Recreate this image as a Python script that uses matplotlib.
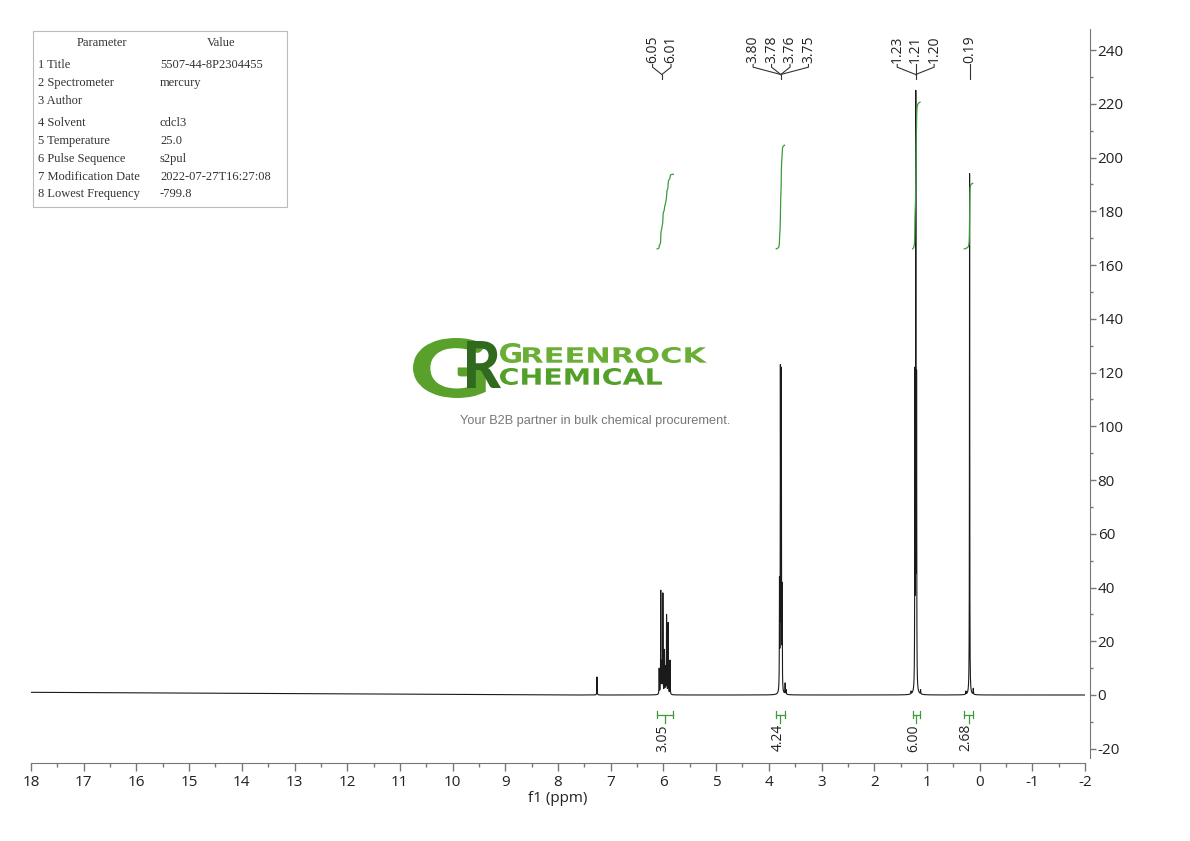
import numpy as np
import matplotlib
matplotlib.use('Agg')
import matplotlib.pyplot as plt
from matplotlib.textpath import TextPath
from matplotlib.patches import PathPatch, Rectangle
from matplotlib.font_manager import FontProperties
from matplotlib.transforms import Affine2D, blended_transform_factory
from matplotlib.ticker import MultipleLocator

plt.rcParams['font.family'] = ['Open Sans', 'DejaVu Sans']
plt.rcParams['axes.unicode_minus'] = False

# ---------------- data ----------------
peak_ppm = [7.26,
            6.08, 6.05, 6.03, 6.01, 5.98, 5.96, 5.94, 5.91, 5.875,
            3.797, 3.780, 3.763, 3.747, 3.69, 3.67,
            1.30, 1.228, 1.211, 1.196, 1.12,
            0.26, 0.19, 0.12]
peak_height = [6.7,
               10, 39, 13, 38, 17, 11, 30, 27, 13,
               44, 123, 122, 42, 4.5, 2,
               1.5, 122, 225, 121, 2,
               1.5, 194, 2.5]

peak_label_groups = [["6.05", "6.01"],
                     ["3.80", "3.78", "3.76", "3.75"],
                     ["1.23", "1.21", "1.20"],
                     ["0.19"]]

int_ranges = [(6.12, 5.81), (3.86, 3.70), (1.27, 1.13), (0.29, 0.13)]
int_values = [3.05, 4.24, 6.00, 2.68]
int_start = 166.0
int_per_unit = 9.1

x_ticks = list(range(18, -3, -1))
y_ticks = list(range(-20, 241, 20))

table_params = ["1 Title", "2 Spectrometer", "3 Author", "4 Solvent", "5 Temperature",
                "6 Pulse Sequence", "7 Modification Date", "8 Lowest Frequency"]
table_values = ["5507-44-8P2304455", "mercury", "", "cdcl3", "25.0", "s2pul",
                "2022-07-27T16:27:08", "-799.8"]

# ---------------- spectrum synthesis ----------------
hwhm = 0.003
pp = np.array(peak_ppm)
hh = np.array(peak_height)
M = 1.0 / (1.0 + ((pp[:, None] - pp[None, :]) / hwhm) ** 2)
amps = np.linalg.solve(M, hh)

grid = np.union1d(np.linspace(18, -2, 60001), pp)[::-1]
spec = np.zeros_like(grid)
for p, a in zip(pp, amps):
    spec += a / (1.0 + ((grid - p) / hwhm) ** 2)
baseline = 1.0 * np.clip((grid - 8.0) / 10.0, 0, 1)
spec_total = spec + baseline

W, H = 1190, 841
fig = plt.figure(figsize=(W / 100, H / 100), dpi=100)
ax = fig.add_axes([31 / W, 1 - 763 / H, (1085 - 31) / W, (763 - 29) / H])
ax.plot(grid, spec_total, color='#1a1a1a', lw=0.8)
ax.set_xlim(18, -2)
ax.set_ylim((695 - 763) / 2.6875, (695 - 29) / 2.6875)

for s in ['left', 'top']:
    ax.spines[s].set_visible(False)
ax.spines['bottom'].set_color('#777777')
ax.spines['right'].set_color('#777777')
ax.spines['right'].set_position(('outward', 3.6))
ax.spines['right'].set_bounds((695 - 758) / 2.6875, (695 - 29) / 2.6875)

ax.set_xticks(x_ticks)
ax.set_xticklabels([str(v) for v in x_ticks])
ax.xaxis.set_minor_locator(MultipleLocator(0.5))
ax.yaxis.tick_right()
ax.set_yticks(y_ticks)
ax.set_yticklabels([str(v) for v in y_ticks])
ax.yaxis.set_minor_locator(MultipleLocator(10))
ax.tick_params(axis='x', which='major', length=6, width=1, color='#777777',
               direction='out', labelsize=11, pad=3, labelcolor='#222222')
ax.tick_params(axis='x', which='minor', length=3, width=1, color='#777777', direction='out')
ax.tick_params(axis='y', which='major', length=4, width=1, color='#777777',
               direction='out', labelsize=11, pad=1.5, labelcolor='#222222')
ax.tick_params(axis='y', which='minor', length=2.5, width=1, color='#777777', direction='out')
ax.set_xlabel('f1 (ppm)', fontsize=11, color='#222222', labelpad=0)

# ---------------- integrals ----------------
green = '#3d9b3d'
for (a, b), val in zip(int_ranges, int_values):
    m = (grid <= a) & (grid >= b)
    xs = grid[m]
    cs = np.cumsum(spec[m])
    cs = cs / cs[-1]
    ax.plot(xs, int_start + val * int_per_unit * cs, color=green, lw=0.9)
    yb = -7.4
    ax.plot([a, b], [yb, yb], color=green, lw=0.9)
    ax.plot([a, a], [yb - 1.3, yb + 1.3], color=green, lw=0.9)
    ax.plot([b, b], [yb - 1.3, yb + 1.3], color=green, lw=0.9)
    c = (a + b) / 2
    ax.plot([c, c], [yb, yb - 3.0], color=green, lw=0.9)
    ax.text(c + 0.05, -10.8, f"{val:.2f}", rotation=90, ha='center', va='top',
            fontsize=10, color='#222222')

# ---------------- peak labels ----------------
trans = blended_transform_factory(ax.transData, ax.transAxes)
spacing = 0.35
f_lab, f_k1, f_k2, f_end = 0.9537, 0.948, 0.938, 0.932
for labels in peak_label_groups:
    vals = [float(s) for s in labels]
    j = float(np.mean(vals))
    n = len(labels)
    for i, s in enumerate(labels):
        lx = j + ((n - 1) / 2 - i) * spacing
        ax.text(lx, f_lab, s, transform=trans, rotation=90, ha='center', va='bottom',
                fontsize=10, color='#222222')
        ax.plot([lx, lx, j], [f_lab - 0.002, f_k1, f_k2], transform=trans,
                color='#333333', lw=0.8, clip_on=False)
    ax.plot([j, j], [f_k2, f_end], transform=trans, color='#333333', lw=0.8, clip_on=False)

# ---------------- parameter table ----------------
fig.add_artist(Rectangle((33 / W, 1 - 207 / H), (287 - 33) / W, (207 - 31) / H,
                         transform=fig.transFigure, fc='white', ec='#bbbbbb', lw=0.8))
tfont = dict(family='Liberation Serif', fontsize=9, color='#333333', va='center')
fig.text(102 / W, 1 - 43 / H, "Parameter", ha='center', **tfont)
fig.text(221 / W, 1 - 43 / H, "Value", ha='center', **tfont)
row_y = [65, 83, 101, 123, 141, 159, 177, 194]
for ry, p, v in zip(row_y, table_params, table_values):
    fig.text(38 / W, 1 - ry / H, p, ha='left', **tfont)
    fig.text(160 / W, 1 - ry / H, v, ha='left', **tfont)

# ---------------- logo ----------------
def fit_text(s, x0, y0, x1, y1, color, weight='bold', family='DejaVu Sans'):
    tp = TextPath((0, 0), s, size=100, prop=FontProperties(family=family, weight=weight))
    ext = tp.get_extents()
    sx = (x1 - x0) / ext.width / W
    sy = (y1 - y0) / ext.height / H
    tr = Affine2D().translate(-ext.x0, -ext.y0).scale(sx, sy).translate(x0 / W, 1 - y1 / H) + fig.transFigure
    fig.add_artist(PathPatch(tp, transform=tr, fc=color, ec='none'))

fit_text("G", 413, 338, 486, 398, '#5aa12c', weight='black', family='Lato')
fit_text("R", 467, 341, 501, 388, '#2f6a1f', weight='black', family='Lato')
fit_text("G", 500, 343, 521, 363, '#6aae35')
fit_text("REENROCK", 523, 347, 707, 363, '#6aae35')
fit_text("CHEMICAL", 500, 368, 662, 385, '#52a028')
fig.text(595 / W, 1 - 421 / H, "Your B2B partner in bulk chemical procurement.",
         family='Liberation Sans', fontsize=9.2, color='#777777', ha='center', va='center')

fig.savefig('out.png', dpi=100)
